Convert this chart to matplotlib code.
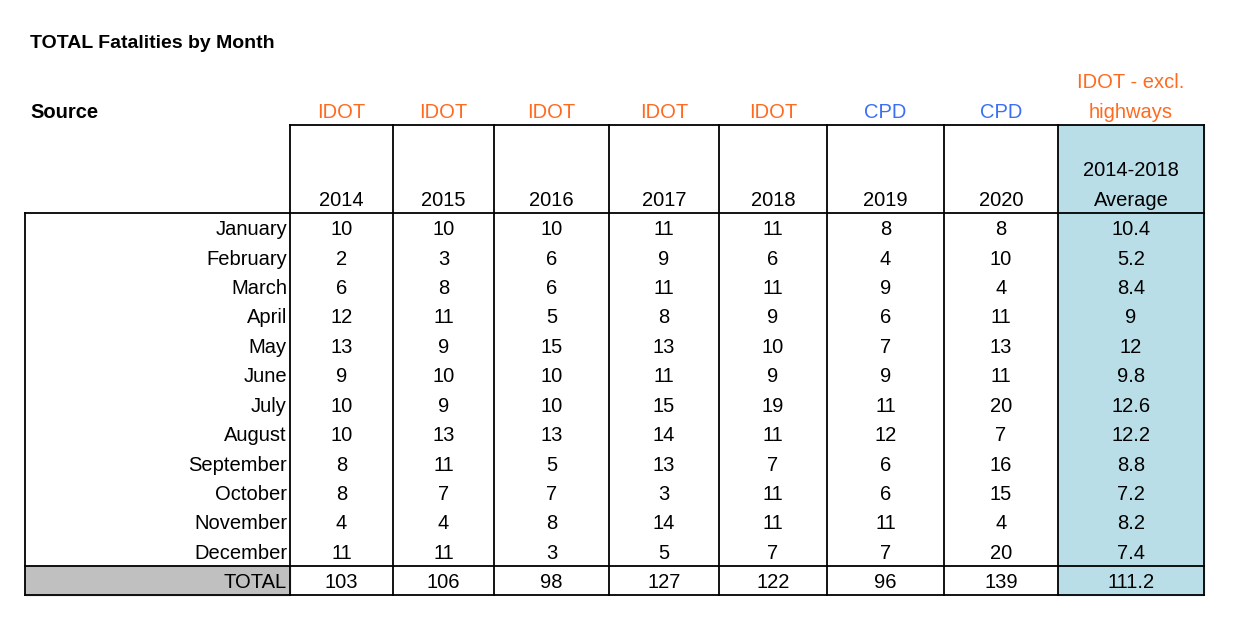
import matplotlib.pyplot as plt

plt.rcParams['font.family'] = ['Liberation Sans', 'DejaVu Sans']

months = ['January', 'February', 'March', 'April', 'May', 'June', 'July',
          'August', 'September', 'October', 'November', 'December']
years = ['2014', '2015', '2016', '2017', '2018', '2019', '2020']
sources = ['IDOT', 'IDOT', 'IDOT', 'IDOT', 'IDOT', 'CPD', 'CPD']
values = {
    '2014': [10, 2, 6, 12, 13, 9, 10, 10, 8, 8, 4, 11],
    '2015': [10, 3, 8, 11, 9, 10, 9, 13, 11, 7, 4, 11],
    '2016': [10, 6, 6, 5, 15, 10, 10, 13, 5, 7, 8, 3],
    '2017': [11, 9, 11, 8, 13, 11, 15, 14, 13, 3, 14, 5],
    '2018': [11, 6, 11, 9, 10, 9, 19, 11, 7, 11, 11, 7],
    '2019': [8, 4, 9, 6, 7, 9, 11, 12, 6, 6, 11, 7],
    '2020': [8, 10, 4, 11, 13, 11, 20, 7, 16, 15, 4, 20],
}
totals = ['103', '106', '98', '127', '122', '96', '139']
average = ['10.4', '5.2', '8.4', '9', '12', '9.8', '12.6', '12.2', '8.8', '7.2', '8.2', '7.4']
avg_total = '111.2'

orange = '#ff6a1f'
blue = '#3b6ff5'
src_color = {'IDOT': orange, 'CPD': blue}

fig = plt.figure(figsize=(12.33, 6.34), dpi=100)
ax = fig.add_axes([0, 0, 1, 1])
ax.set_xlim(0, 1233)
ax.set_ylim(634, 0)
ax.axis('off')

cols = [290, 393, 494, 609, 719, 827, 944, 1058, 1204]
left = 25
top, head_bot = 125, 213
row_h = (566 - 213) / 12
bottom = 595
fs = 14.5
dy = 2

# fills
ax.fill_between([cols[-2], cols[-1]], top, bottom, color='#b9dee8', zorder=0)
ax.fill_between([left, cols[0]], 566, bottom, color='#c0c0c0', zorder=0)

# lines
lw = 1.3
ax.plot([cols[0], cols[-1]], [top, top], color='k', lw=lw)
ax.plot([left, cols[-1]], [head_bot, head_bot], color='k', lw=lw)
ax.plot([left, cols[-1]], [566, 566], color='k', lw=lw)
ax.plot([left, cols[-1]], [bottom, bottom], color='k', lw=lw)
ax.plot([left, left], [head_bot, bottom], color='k', lw=lw)
for x in cols:
    ax.plot([x, x], [top, bottom], color='k', lw=lw)

ax.text(30, 42 + dy, 'TOTAL Fatalities by Month', fontsize=14, fontweight='bold', va='center')
ax.text(30, 110 + dy, 'Source', fontsize=14.5, fontweight='bold', va='center')

for i, (yr, src) in enumerate(zip(years, sources)):
    cx = (cols[i] + cols[i + 1]) / 2
    ax.text(cx, 110 + dy, src, fontsize=fs, color=src_color[src], ha='center', va='center')
    ax.text(cx, 198 + dy, yr, fontsize=fs, ha='center', va='center')
    for j, v in enumerate(values[yr]):
        ax.text(cx, head_bot + (j + 0.5) * row_h + dy, str(v), fontsize=fs, ha='center', va='center')
    ax.text(cx, 580 + dy, totals[i], fontsize=fs, ha='center', va='center')

cx = (cols[-2] + cols[-1]) / 2
ax.text(cx, 80 + dy, 'IDOT - excl.', fontsize=fs, color=orange, ha='center', va='center')
ax.text(cx, 110 + dy, 'highways', fontsize=fs, color=orange, ha='center', va='center')
ax.text(cx, 168 + dy, '2014-2018', fontsize=fs, ha='center', va='center')
ax.text(cx, 198 + dy, 'Average', fontsize=fs, ha='center', va='center')
for j, v in enumerate(average):
    ax.text(cx, head_bot + (j + 0.5) * row_h + dy, v, fontsize=fs, ha='center', va='center')
ax.text(cx, 580 + dy, avg_total, fontsize=fs, ha='center', va='center')

for j, m in enumerate(months):
    ax.text(cols[0] - 3, head_bot + (j + 0.5) * row_h + dy, m, fontsize=fs, ha='right', va='center')
ax.text(cols[0] - 3, 580 + dy, 'TOTAL', fontsize=fs, ha='right', va='center')

fig.savefig('out.png', dpi=100)
